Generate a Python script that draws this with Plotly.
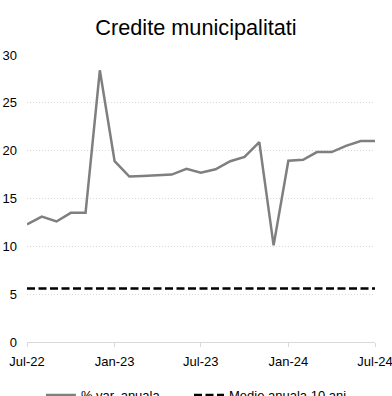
import plotly.graph_objects as go
import pandas as pd

months = pd.date_range("2022-07-01", "2024-07-01", freq="MS")
var_anuala = [12.3, 13.1, 12.6, 13.5, 13.5, 28.4, 18.9, 17.3, 17.35, 17.45, 17.5,
              18.1, 17.7, 18.05, 18.9, 19.35, 20.9, 10.1, 18.95, 19.05, 19.85,
              19.85, 20.5, 21.0, 21.0]
medie_10ani = [5.6] * len(months)

tick_vals = ["2022-07-01", "2023-01-01", "2023-07-01", "2024-01-01", "2024-07-01"]
tick_text = ["Jul-22", "Jan-23", "Jul-23", "Jan-24", "Jul-24"]

fig = go.Figure()
fig.add_trace(go.Scatter(x=months, y=var_anuala, mode="lines", name="% var. anuala",
                         line=dict(color="#7f7f7f", width=2.5), legend="legend"))
fig.add_trace(go.Scatter(x=months, y=medie_10ani, mode="lines", name="Medie anuala 10 ani",
                         line=dict(color="#000000", width=2.5, dash="8px,3.5px"),
                         legend="legend2"))

legend_common = dict(orientation="h", xanchor="left", yref="container", y=0.04, yanchor="top",
                     font=dict(size=13), bgcolor="rgba(0,0,0,0)")

fig.update_layout(
    width=392, height=396,
    margin=dict(l=27, r=17, t=55, b=54, autoexpand=False),
    paper_bgcolor="white", plot_bgcolor="white",
    font=dict(family="Liberation Sans, Arial, sans-serif", size=13, color="#000000"),
    title=dict(text="Credite municipalitati", x=0.5, xanchor="center", y=0.932, yanchor="middle",
               font=dict(size=21.7, color="#000000")),
    showlegend=True,
    legend=dict(x=0.04, **legend_common),
    legend2=dict(x=0.4655, **legend_common),
    xaxis=dict(range=[months[0], months[-1]], tickvals=tick_vals, ticktext=tick_text,
               showgrid=False, showline=True, linecolor="#d9d9d9", linewidth=1,
               ticks="outside", ticklen=4, tickcolor="#d9d9d9", zeroline=False,
               ticklabelstandoff=3, ticklabeloverflow="allow", automargin=False,
               tickfont=dict(size=13)),
    yaxis=dict(range=[0, 30], dtick=5, showgrid=True, gridcolor="#d9d9d9", griddash="1px,2px",
               gridwidth=1, zeroline=False, showline=False, ticks="", ticklabelstandoff=9,
               automargin=False, tickfont=dict(size=13)),
)

fig.write_html("out.html", config={"displayModeBar": False},
               post_script="document.body.style.margin='0px';")
